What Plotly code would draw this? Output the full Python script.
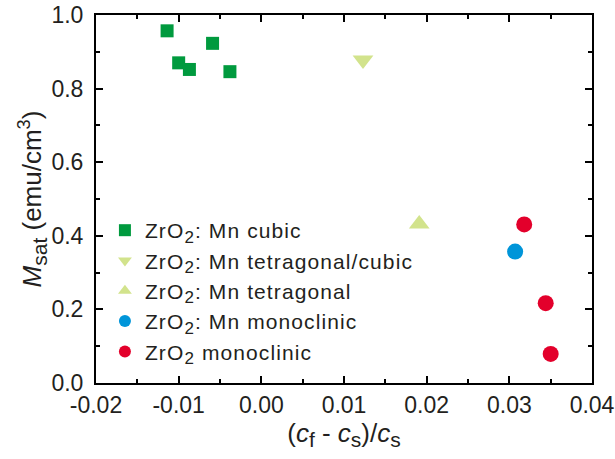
import plotly.graph_objects as go

# Saturation magnetisation vs. relative lattice mismatch
cubic_x = [-0.0114, -0.0100, -0.0087, -0.0059, -0.0038]
cubic_y = [0.957, 0.870, 0.852, 0.923, 0.846]

tetcub_x = [0.0123]
tetcub_y = [0.878]

tet_x = [0.0191]
tet_y = [0.432]

mn_mono_x = [0.0307]
mn_mono_y = [0.357]

mono_x = [0.0318, 0.0344, 0.0350]
mono_y = [0.431, 0.217, 0.079]


def sub(t, px):
    return f'<sub><span style="font-size:{px}px">{t}</span></sub>'


def spaced(t):
    return f'<span style="letter-spacing:1.1px">{t}</span>'


names = [
    spaced(f"ZrO{sub('2', 17)}: Mn cubic"),
    spaced(f"ZrO{sub('2', 17)}: Mn tetragonal/cubic"),
    spaced(f"ZrO{sub('2', 17)}: Mn tetragonal"),
    spaced(f"ZrO{sub('2', 17)}: Mn monoclinic"),
    spaced(f"ZrO{sub('2', 17)} monoclinic"),
]

x_tickvals = [-0.02, -0.01, 0.0, 0.01, 0.02, 0.03, 0.04]
x_ticktext = ["-0.02", "-0.01", "0.00", "0.01", "0.02", "0.03", "0.04"]
y_tickvals = [0.0, 0.2, 0.4, 0.6, 0.8, 1.0]
y_ticktext = ["0.0", "0.2", "0.4", "0.6", "0.8", "1.0"]

FONT = "Arial, Liberation Sans, Helvetica, sans-serif"
INK = "#231f20"

fig = go.Figure()
series = [
    (cubic_x, cubic_y, "square", 13, "#009a3e"),
    (tetcub_x, tetcub_y, "triangle-down", 18, "#d2e38c"),
    (tet_x, tet_y, "triangle-up", 18, "#d2e38c"),
    (mn_mono_x, mn_mono_y, "circle", 16, "#0095d9"),
    (mono_x, mono_y, "circle", 16, "#e3002b"),
]
for (xs, ys, sym, size, col), name in zip(series, names):
    fig.add_trace(go.Scatter(
        x=xs, y=ys, mode="markers", name=name,
        marker=dict(symbol=sym, size=size, color=col, line=dict(width=0)),
    ))

axis_common = dict(
    showline=True, linecolor="black", linewidth=2,
    mirror="ticks", ticks="inside", ticklen=7, tickwidth=2, tickcolor="black",
    showgrid=False, zeroline=False, automargin=False,
    tickfont=dict(family=FONT, size=23, color=INK),
)

x_title = f"(<i>c</i>{sub('f', 21)} - <i>c</i>{sub('s', 21)})/<i>c</i>{sub('s', 21)}"
y_title = f"<i>M</i>{sub('sat', 21)} (emu/cm<sup>3</sup>)"

fig.update_xaxes(
    range=[-0.02, 0.04], tickmode="array", tickvals=x_tickvals, ticktext=x_ticktext,
    minor=dict(ticks="inside", ticklen=4, tickwidth=2, dtick=0.005, tickcolor="black"),
    title=dict(text=x_title, font=dict(family=FONT, size=26, color=INK), standoff=6),
    **axis_common,
)
fig.update_yaxes(
    range=[0, 1.0], tickmode="array", tickvals=y_tickvals, ticktext=y_ticktext,
    minor=dict(ticks="inside", ticklen=4, tickwidth=2, dtick=0.1, tickcolor="black"),
    title=dict(text=y_title, font=dict(family=FONT, size=26, color=INK), standoff=2),
    ticklabelstandoff=6,
    **axis_common,
)

fig.update_layout(
    width=615, height=459,
    margin=dict(l=96, r=23, t=15, b=76),
    paper_bgcolor="white", plot_bgcolor="white",
    showlegend=True,
    legend=dict(
        x=0.018, y=0.47, xanchor="left", yanchor="top",
        bgcolor="rgba(0,0,0,0)",
        font=dict(family=FONT, size=21, color=INK),
        itemsizing="constant", tracegroupgap=0,
    ),
)

fig.write_html("out.html")
